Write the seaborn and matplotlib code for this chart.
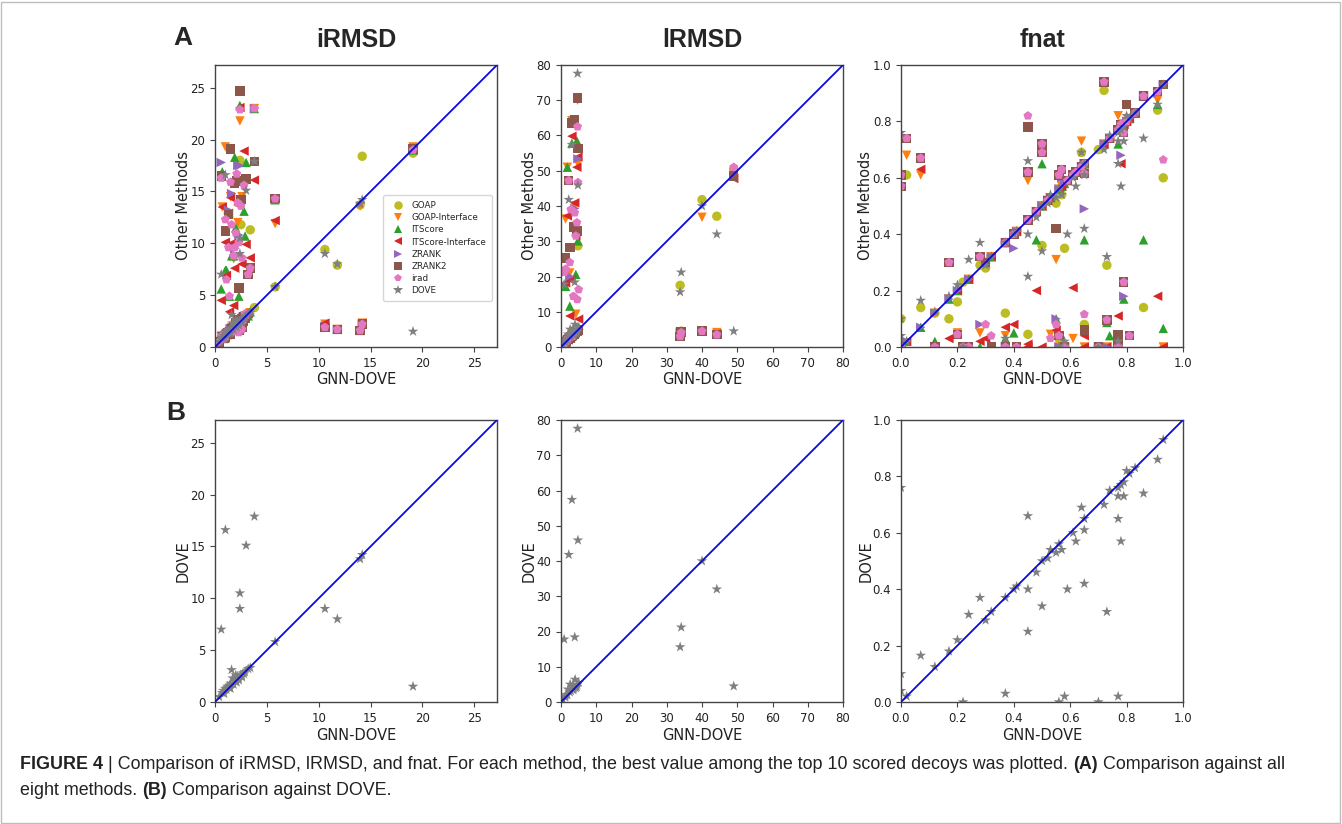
import numpy as np
import pandas as pd
import matplotlib
matplotlib.use("Agg")
import matplotlib.pyplot as plt
import seaborn as sns
from matplotlib.patches import Rectangle

# -----------------------------
# Data
# -----------------------------
methods = ["GOAP", "GOAP-Interface", "ITScore", "ITScore-Interface",
           "ZRANK", "ZRANK2", "irad", "DOVE"]
colors = ["#bcbd22", "#ff7f0e", "#2ca02c", "#d62728",
          "#9467bd", "#8c564b", "#e377c2", "#7f7f7f"]
markers = ["o", "v", "^", "<", ">", "s", "p", "*"]
marker_sizes = [46, 46, 46, 46, 46, 46, 46, 64]

# one row per target: GNN-DOVE value, then one value per method (order above)
irmsd_rows = [
    [10.6, 9.4, 2.2, 2.1, 2.3, 2.0, 1.9, 1.9, 9.0],
    [11.8, 7.9, 1.7, 1.7, 1.7, 1.7, 1.7, 1.7, 8.0],
    [14.0, 13.7, 13.6, 1.6, 1.6, 1.6, 1.6, 1.6, 13.8],
    [14.2, 18.4, 2.3, 2.2, 2.3, 2.2, 2.2, 2.2, 14.2],
    [19.1, 18.7, 19.3, 19.0, 19.0, 19.0, 19.1, 19.0, 1.5],
    [5.8, 5.8, 11.9, 14.2, 12.2, 14.2, 14.3, 14.3, 5.8],
    [3.8, 3.8, 23.0, 23.0, 16.1, 23.0, 17.9, 23.0, 17.9],
    [2.4, 18.0, 21.8, 23.3, 23.1, 17.5, 24.7, 22.9, 10.5],
    [0.6, 0.9, 1.0, 5.6, 4.5, 17.8, 16.5, 16.3, 7.0],
    [0.7, 1.0, 13.5, 16.9, 13.5, 1.1, 1.0, 1.1, 0.9],
    [1.0, 1.3, 19.3, 7.4, 10.1, 1.2, 11.2, 12.3, 16.6],
    [1.1, 1.2, 1.3, 7.4, 6.9, 1.3, 1.2, 6.5, 1.2],
    [1.3, 1.5, 1.4, 1.5, 12.9, 13.2, 12.8, 9.6, 1.4],
    [1.4, 1.6, 1.7, 4.9, 3.4, 1.5, 1.5, 4.9, 1.6],
    [1.5, 1.6, 14.5, 1.7, 14.4, 1.8, 19.1, 15.9, 1.3],
    [1.6, 1.8, 1.9, 8.8, 10.0, 14.8, 1.8, 11.8, 3.1],
    [1.8, 2.0, 8.5, 8.8, 4.0, 1.9, 1.9, 8.8, 1.7],
    [1.9, 2.0, 2.1, 18.3, 7.6, 9.5, 15.8, 9.6, 2.0],
    [2.0, 2.2, 2.1, 11.5, 2.3, 2.2, 2.3, 11.0, 2.2],
    [2.1, 2.3, 2.2, 2.3, 2.4, 2.2, 16.0, 16.7, 1.9],
    [2.2, 2.4, 12.0, 2.4, 13.7, 17.5, 2.6, 13.9, 2.5],
    [2.3, 2.5, 2.4, 4.9, 2.6, 10.8, 5.7, 10.1, 2.3],
    [2.4, 2.6, 2.5, 2.6, 2.5, 2.5, 2.6, 2.4, 9.0],
    [2.5, 11.8, 2.6, 2.7, 2.6, 2.5, 14.2, 13.6, 2.6],
    [2.6, 2.7, 14.5, 2.8, 8.0, 2.6, 2.7, 8.6, 2.4],
    [2.8, 2.9, 2.8, 13.1, 18.9, 2.9, 2.9, 15.6, 2.7],
    [3.0, 3.1, 3.0, 17.8, 9.9, 3.0, 16.2, 3.1, 15.1],
    [2.9, 3.0, 2.9, 10.7, 2.9, 3.0, 2.8, 3.2, 2.9],
    [3.4, 11.3, 3.3, 3.4, 8.6, 3.2, 7.6, 7.6, 3.3],
    [3.2, 3.3, 3.1, 3.0, 3.2, 3.1, 7.0, 7.0, 3.2],
    [0.4, 0.5, 0.4, 0.6, 0.5, 0.4, 0.5, 0.5, 0.5],
    [0.8, 1.0, 0.9, 1.1, 0.8, 0.9, 1.0, 0.8, 1.1],
    [1.2, 1.4, 1.3, 1.2, 1.5, 1.3, 1.4, 1.5, 1.5],
    [1.7, 2.0, 1.8, 1.6, 1.9, 1.8, 1.7, 1.5, 2.3],
    [1.5, 1.3, 1.4, 1.3, 1.6, 1.4, 1.2, 1.4, 1.8],
    [2.0, 1.9, 2.2, 1.8, 2.0, 2.1, 1.9, 1.7, 2.6],
    [2.7, 2.8, 2.6, 2.7, 2.8, 2.9, 2.5, 2.6, 2.8],
    [1.0, 0.8, 1.0, 0.9, 1.1, 1.0, 0.9, 1.0, 1.3],
    [0.9, 1.1, 0.8, 1.0, 0.9, 1.1, 0.8, 0.9, 0.8],
    [2.3, 2.1, 2.2, 1.9, 2.0, 1.8, 1.6, 1.4, 2.1],
    [2.6, 2.4, 2.3, 2.5, 2.2, 2.1, 1.9, 1.7, 2.5],
]

lrmsd_rows = [
    [33.8, 17.5, 4.2, 4.3, 4.2, 4.0, 3.0, 3.0, 15.6],
    [34.1, 4.5, 4.3, 4.4, 4.1, 4.2, 4.2, 4.1, 21.2],
    [40.0, 41.8, 36.8, 4.5, 4.5, 4.5, 4.5, 4.5, 40.0],
    [44.2, 37.1, 4.1, 3.6, 3.8, 3.6, 3.5, 3.5, 32.0],
    [49.0, 50.5, 49.3, 49.5, 47.8, 48.5, 48.5, 51.0, 4.5],
    [4.7, 5.0, 70.0, 5.2, 4.9, 5.1, 70.6, 62.5, 77.6],
    [3.1, 3.2, 64.2, 57.8, 59.8, 3.3, 63.5, 3.4, 57.4],
    [4.8, 28.7, 52.0, 30.1, 53.9, 53.4, 56.3, 46.7, 45.9],
    [2.2, 2.4, 2.3, 2.5, 2.6, 2.3, 47.2, 47.2, 41.8],
    [0.9, 1.0, 1.1, 1.2, 1.0, 1.1, 25.2, 21.2, 17.8],
    [3.9, 4.0, 40.0, 4.1, 40.9, 39.3, 64.4, 38.1, 18.4],
    [1.8, 2.0, 51.0, 51.0, 37.2, 1.9, 2.1, 2.0, 2.0],
    [1.3, 1.4, 36.3, 17.2, 18.2, 1.5, 25.4, 22.1, 1.6],
    [4.5, 4.4, 4.6, 58.5, 51.0, 4.6, 32.9, 35.3, 4.3],
    [2.5, 2.6, 21.0, 11.6, 8.8, 20.0, 28.3, 24.0, 2.8],
    [4.2, 4.3, 9.3, 20.6, 31.5, 4.5, 4.4, 31.5, 4.0],
    [5.0, 5.1, 4.9, 5.3, 7.9, 5.0, 4.8, 16.3, 5.5],
    [3.5, 3.6, 3.4, 3.7, 3.5, 3.6, 34.0, 14.4, 3.4],
    [4.6, 4.7, 4.5, 4.8, 4.4, 4.6, 4.7, 13.5, 4.9],
    [2.8, 3.0, 2.9, 2.7, 19.0, 2.8, 2.9, 39.0, 3.2],
    [1.5, 1.7, 1.6, 1.4, 1.8, 1.6, 1.5, 1.6, 2.1],
    [0.5, 0.6, 0.5, 0.7, 0.6, 0.5, 0.6, 0.5, 0.7],
    [2.0, 2.2, 2.1, 2.3, 2.0, 2.2, 2.1, 2.4, 3.6],
    [3.3, 3.5, 3.4, 3.2, 3.6, 3.4, 3.3, 3.1, 4.8],
    [4.0, 4.2, 4.1, 4.3, 4.0, 4.2, 4.1, 4.4, 6.4],
    [1.1, 1.3, 1.2, 1.1, 1.4, 1.2, 1.3, 1.0, 1.4],
    [2.6, 2.8, 2.7, 2.9, 2.6, 2.7, 2.5, 2.8, 5.0],
    [3.7, 3.9, 3.8, 3.6, 4.0, 3.8, 3.7, 3.9, 3.8],
]

fnat_rows = [
    [0.00, 0.10, 0.00, 0.00, 0.00, 0.00, 0.57, 0.57, 0.76],
    [0.00, 0.00, 0.00, 0.00, 0.00, 0.00, 0.61, 0.61, 0.10],
    [0.00, 0.00, 0.00, 0.00, 0.00, 0.00, 0.00, 0.00, 0.04],
    [0.02, 0.61, 0.68, 0.02, 0.02, 0.02, 0.74, 0.74, 0.02],
    [0.07, 0.14, 0.61, 0.07, 0.63, 0.07, 0.67, 0.67, 0.165],
    [0.12, 0.12, 0.12, 0.02, 0.00, 0.12, 0.00, 0.00, 0.125],
    [0.17, 0.10, 0.17, 0.17, 0.03, 0.17, 0.30, 0.30, 0.18],
    [0.20, 0.16, 0.05, 0.20, 0.20, 0.20, 0.045, 0.045, 0.22],
    [0.22, 0.23, 0.00, 0.00, 0.00, 0.00, 0.00, 0.00, 0.00],
    [0.24, 0.24, 0.24, 0.24, 0.24, 0.24, 0.00, 0.00, 0.31],
    [0.28, 0.29, 0.05, 0.00, 0.02, 0.08, 0.32, 0.32, 0.37],
    [0.30, 0.28, 0.30, 0.30, 0.03, 0.30, 0.30, 0.08, 0.29],
    [0.32, 0.32, 0.32, 0.32, 0.32, 0.32, 0.00, 0.04, 0.32],
    [0.37, 0.12, 0.04, 0.03, 0.07, 0.00, 0.00, 0.00, 0.03],
    [0.37, 0.37, 0.37, 0.37, 0.37, 0.37, 0.37, 0.37, 0.37],
    [0.40, 0.40, 0.40, 0.05, 0.08, 0.35, 0.40, 0.40, 0.40],
    [0.41, 0.41, 0.41, 0.41, 0.41, 0.41, 0.00, 0.00, 0.41],
    [0.45, 0.045, 0.59, 0.45, 0.00, 0.45, 0.78, 0.82, 0.66],
    [0.45, 0.45, 0.45, 0.45, 0.01, 0.45, 0.62, 0.62, 0.25],
    [0.45, 0.45, 0.45, 0.45, 0.45, 0.45, 0.45, 0.45, 0.40],
    [0.48, 0.48, 0.48, 0.38, 0.20, 0.48, 0.48, 0.48, 0.46],
    [0.50, 0.36, 0.50, 0.65, 0.00, 0.50, 0.72, 0.72, 0.34],
    [0.50, 0.50, 0.50, 0.50, 0.50, 0.50, 0.69, 0.69, 0.50],
    [0.52, 0.52, 0.52, 0.52, 0.52, 0.52, 0.52, 0.52, 0.51],
    [0.53, 0.53, 0.045, 0.53, 0.53, 0.53, 0.53, 0.031, 0.54],
    [0.55, 0.51, 0.31, 0.10, 0.06, 0.10, 0.42, 0.08, 0.53],
    [0.56, 0.56, 0.56, 0.56, 0.56, 0.56, 0.61, 0.61, 0.56],
    [0.57, 0.54, 0.57, 0.57, 0.57, 0.60, 0.63, 0.63, 0.54],
    [0.56, 0.03, 0.00, 0.00, 0.00, 0.00, 0.04, 0.04, 0.00],
    [0.58, 0.35, 0.58, 0.58, 0.00, 0.58, 0.00, 0.00, 0.02],
    [0.59, 0.59, 0.59, 0.59, 0.59, 0.59, 0.59, 0.59, 0.40],
    [0.61, 0.61, 0.03, 0.61, 0.21, 0.61, 0.61, 0.61, 0.60],
    [0.62, 0.62, 0.62, 0.62, 0.62, 0.62, 0.62, 0.62, 0.57],
    [0.64, 0.69, 0.73, 0.64, 0.64, 0.64, 0.64, 0.64, 0.69],
    [0.65, 0.08, 0.00, 0.38, 0.04, 0.49, 0.65, 0.65, 0.65],
    [0.65, 0.65, 0.65, 0.65, 0.00, 0.65, 0.06, 0.116, 0.42],
    [0.65, 0.65, 0.65, 0.65, 0.65, 0.65, 0.615, 0.615, 0.61],
    [0.70, 0.70, 0.00, 0.00, 0.00, 0.00, 0.00, 0.00, 0.00],
    [0.72, 0.91, 0.72, 0.72, 0.72, 0.72, 0.94, 0.94, 0.70],
    [0.73, 0.29, 0.00, 0.087, 0.00, 0.00, 0.096, 0.096, 0.32],
    [0.74, 0.74, 0.74, 0.04, 0.74, 0.74, 0.74, 0.74, 0.75],
    [0.77, 0.77, 0.82, 0.72, 0.77, 0.77, 0.77, 0.77, 0.76],
    [0.77, 0.77, 0.77, 0.77, 0.11, 0.77, 0.045, 0.00, 0.65],
    [0.77, 0.77, 0.77, 0.77, 0.77, 0.77, 0.02, 0.00, 0.73],
    [0.78, 0.78, 0.78, 0.78, 0.65, 0.68, 0.78, 0.78, 0.57],
    [0.78, 0.78, 0.78, 0.78, 0.78, 0.78, 0.79, 0.79, 0.77],
    [0.79, 0.79, 0.79, 0.79, 0.79, 0.79, 0.76, 0.76, 0.78],
    [0.79, 0.79, 0.79, 0.17, 0.79, 0.18, 0.23, 0.23, 0.73],
    [0.80, 0.86, 0.80, 0.80, 0.80, 0.80, 0.86, 0.80, 0.82],
    [0.81, 0.81, 0.81, 0.81, 0.81, 0.81, 0.04, 0.04, 0.81],
    [0.83, 0.83, 0.83, 0.83, 0.83, 0.83, 0.83, 0.83, 0.83],
    [0.86, 0.14, 0.89, 0.38, 0.89, 0.89, 0.89, 0.89, 0.74],
    [0.91, 0.84, 0.875, 0.86, 0.18, 0.90, 0.905, 0.905, 0.86],
    [0.93, 0.60, 0.00, 0.066, 0.00, 0.93, 0.93, 0.664, 0.93],
    [0.77, 0.77, 0.00, 0.00, 0.00, 0.00, 0.00, 0.00, 0.02],
]

titles = ["iRMSD", "lRMSD", "fnat"]
limits = [27.2, 80, 1.0]
ticks = [[0, 5, 10, 15, 20, 25],
         [0, 10, 20, 30, 40, 50, 60, 70, 80],
         [0.0, 0.2, 0.4, 0.6, 0.8, 1.0]]

# -----------------------------
# Style
# -----------------------------
sns.set_style("ticks")
plt.rcParams["font.family"] = ["DejaVu Sans"]
plt.rcParams["axes.edgecolor"] = "#444444"
plt.rcParams["axes.linewidth"] = 1.0
plt.rcParams["xtick.color"] = "#444444"
plt.rcParams["ytick.color"] = "#444444"
plt.rcParams["xtick.labelcolor"] = "#222222"
plt.rcParams["ytick.labelcolor"] = "#222222"
plt.rcParams["xtick.major.size"] = 3.5
plt.rcParams["ytick.major.size"] = 3.5

palette = dict(zip(methods, colors))
marker_map = dict(zip(methods, markers))
size_map = dict(zip(methods, marker_sizes))


def to_long(rows):
    df = pd.DataFrame(rows, columns=["GNN-DOVE"] + methods)
    return df.melt(id_vars="GNN-DOVE", var_name="method", value_name="other")


fig = plt.figure(figsize=(13.42, 8.24), dpi=100)

W, H = 1342, 824
col_left = [215, 561, 901]
row_top = [65, 420]
size = 282

all_rows = [irmsd_rows, lrmsd_rows, fnat_rows]
for j in range(3):
    long = to_long(all_rows[j])
    dove = long[long["method"] == "DOVE"]
    for i in range(2):
        l, t = col_left[j], row_top[i]
        ax = fig.add_axes([l / W, (H - t - size) / H, size / W, size / H])
        data = long if i == 0 else dove
        sns.scatterplot(data=data, x="GNN-DOVE", y="other", hue="method",
                        style="method", size="method", palette=palette,
                        markers=marker_map, sizes=size_map, linewidth=0,
                        alpha=1, ax=ax, legend=(i == 0 and j == 0))
        ax.axline((0, 0), slope=1, color="#0a0adc", lw=1.3, zorder=3)
        ax.set_xlim(0, limits[j])
        ax.set_ylim(0, limits[j])
        ax.set_xticks(ticks[j])
        ax.set_yticks(ticks[j])
        ax.tick_params(labelsize=8.5)
        ax.set_xlabel("GNN-DOVE", fontsize=10.5, color="#222222", labelpad=2)
        ax.set_ylabel("Other Methods" if i == 0 else "DOVE", fontsize=10.5,
                      color="#222222", labelpad=-0.5)
        if i == 0:
            ax.set_title(titles[j], fontsize=18, fontweight="bold",
                         family="Liberation Sans", pad=13)
        if i == 0 and j == 0:
            handles, labels = ax.get_legend_handles_labels()
            ax.legend(handles, labels, loc="lower right",
                      bbox_to_anchor=(0.998, 0.148), fontsize=6.3,
                      frameon=True, borderpad=0.7, labelspacing=0.35,
                      handletextpad=0.5, markerscale=0.9, edgecolor="#cccccc",
                      fancybox=True)

# panel letters
fig.text(173 / W, 1 - 38 / H, "A", fontsize=19, fontweight="bold",
         family="Liberation Sans", va="center", ha="left")
fig.text(166 / W, 1 - 413 / H, "B", fontsize=19, fontweight="bold",
         family="Liberation Sans", va="center", ha="left")

# caption
cap = dict(fontsize=12.9, family="Liberation Sans", color="#222222")
cax = fig.add_axes([0, 0, 1, 1])
cax.set_axis_off()
t = cax.text(20 / W, 1 - 769 / H, "FIGURE 4", weight="bold", va="baseline",
             transform=cax.transAxes, **cap)
parts = [(" | Comparison of iRMSD, lRMSD, and fnat. For each method, the best "
          "value among the top 10 scored decoys was plotted. ", "normal"),
         ("(A)", "bold"), (" Comparison against all", "normal")]
for txt, w in parts:
    t = cax.annotate(txt, xy=(1, 0), xycoords=t, va="bottom", ha="left",
                     weight=w, **cap)
t = cax.text(20 / W, 1 - 795 / H, "eight methods. ", va="baseline",
             transform=cax.transAxes, **cap)
for txt, w in [("(B)", "bold"), (" Comparison against DOVE.", "normal")]:
    t = cax.annotate(txt, xy=(1, 0), xycoords=t, va="bottom", ha="left",
                     weight=w, **cap)

# thin frame around the whole figure
fig.add_artist(Rectangle((1 / W, 1 / H), (W - 3) / W, (H - 3) / H,
                         transform=fig.transFigure, fill=False,
                         edgecolor="#bdbdbd", lw=1.0))

fig.savefig("out.png", dpi=100)
